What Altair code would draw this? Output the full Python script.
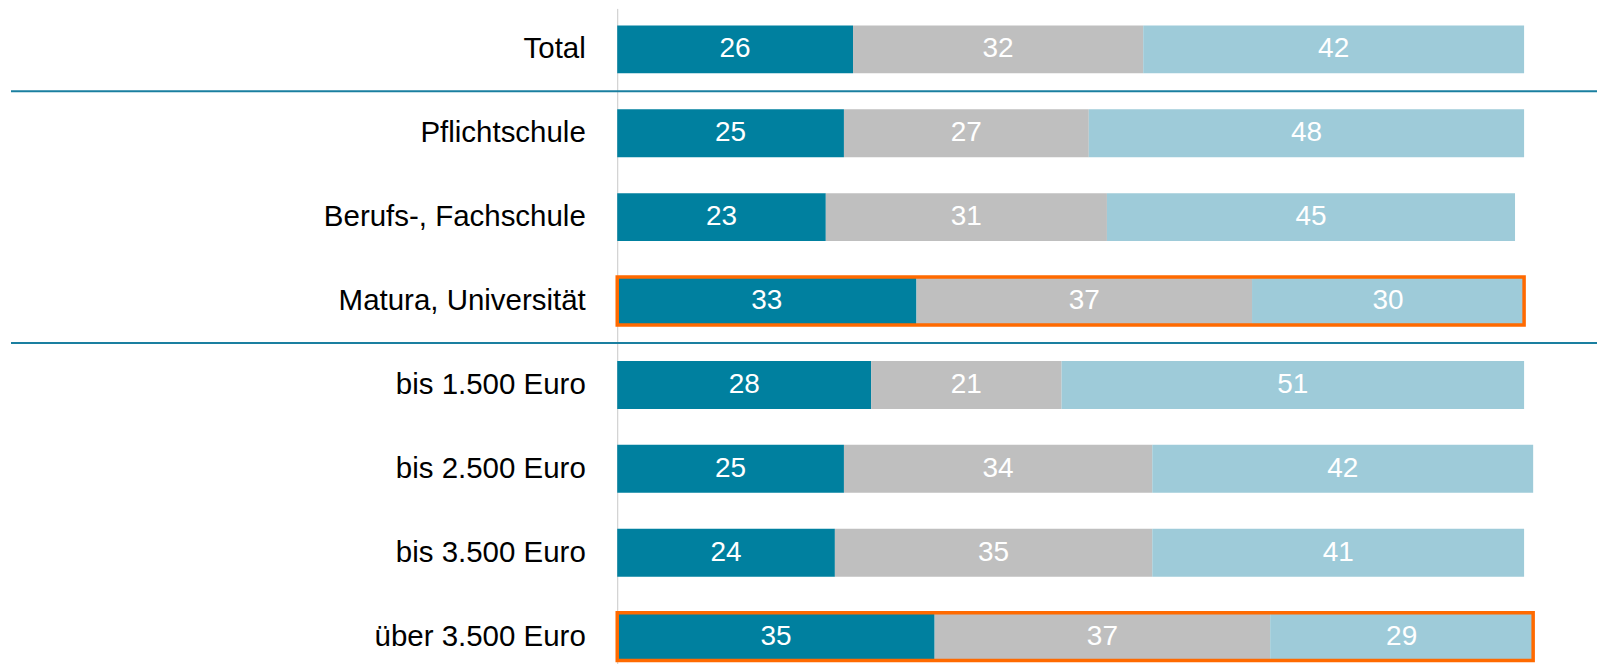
import altair as alt
import pandas as pd

categories = ["Total", "Pflichtschule", "Berufs-, Fachschule", "Matura, Universität",
              "bis 1.500 Euro", "bis 2.500 Euro", "bis 3.500 Euro", "über 3.500 Euro"]
series_keys = ["s1", "s2", "s3"]
series_1 = [26, 25, 23, 33, 28, 25, 24, 35]
series_2 = [32, 27, 31, 37, 21, 34, 35, 37]
series_3 = [42, 48, 45, 30, 51, 42, 41, 29]
highlighted = ["Matura, Universität", "über 3.500 Euro"]
separators_after = ["Total", "Matura, Universität"]
colors = ["#00809f", "#bfbfbf", "#9ecbd9"]

rows = []
for i, c in enumerate(categories):
    for k, (key, ser) in enumerate(zip(series_keys, [series_1, series_2, series_3])):
        rows.append({"cat": c, "seg": key, "order": k, "value": ser[i]})
df = pd.DataFrame(rows)

hl = pd.DataFrame([
    {"cat": c, "start": 0,
     "total": series_1[categories.index(c)] + series_2[categories.index(c)] + series_3[categories.index(c)]}
    for c in highlighted
])
sep = pd.DataFrame({"cat": separators_after})

FONT = "Liberation Sans"
yscale = alt.Scale(domain=categories, paddingInner=0.4286, paddingOuter=0.119, align=0.85)
xscale = alt.Scale(domain=[0, 100], nice=False, zero=True)

Y = alt.Y("cat:N", sort=categories, scale=yscale, title=None,
          axis=alt.Axis(domain=True, domainColor="#c8c8c8", domainWidth=1, ticks=False,
                        labelFontSize=29.5, labelFont=FONT, labelColor="#000000",
                        labelPadding=32, labelLimit=0, grid=False))

base = alt.Chart(df).transform_stack(
    stack="value", as_=["x0", "x1"], groupby=["cat"], sort=[alt.SortField("order")]
)

bars = base.mark_bar().encode(
    y=Y,
    x=alt.X("x0:Q", scale=xscale, axis=None),
    x2="x1:Q",
    color=alt.Color("seg:N", scale=alt.Scale(domain=series_keys, range=colors), legend=None),
)

labels = base.transform_calculate(mid="(datum.x0 + datum.x1) / 2").mark_text(
    color="white", fontSize=28, font=FONT, baseline="middle", align="center"
).encode(
    y=Y,
    x=alt.X("mid:Q", scale=xscale, axis=None),
    text="value:Q",
)

outline = alt.Chart(hl).mark_bar(fill="transparent", stroke="#ff6a00", strokeWidth=3.5).encode(
    y=Y,
    x=alt.X("start:Q", scale=xscale, axis=None),
    x2="total:Q",
)

rules = alt.Chart(sep).mark_rule(color="#1a7fa0", strokeWidth=2, yOffset=42).encode(
    y=Y,
    x=alt.value(-607),
    x2=alt.value(981),
)

chart = alt.layer(bars, outline, labels, rules).properties(
    width=908, height=656,
    padding={"left": 2, "top": 0, "right": 0, "bottom": 0},
).configure_view(stroke=None)

chart.save("out.html", embed_options={"renderer": "svg", "actions": False})
